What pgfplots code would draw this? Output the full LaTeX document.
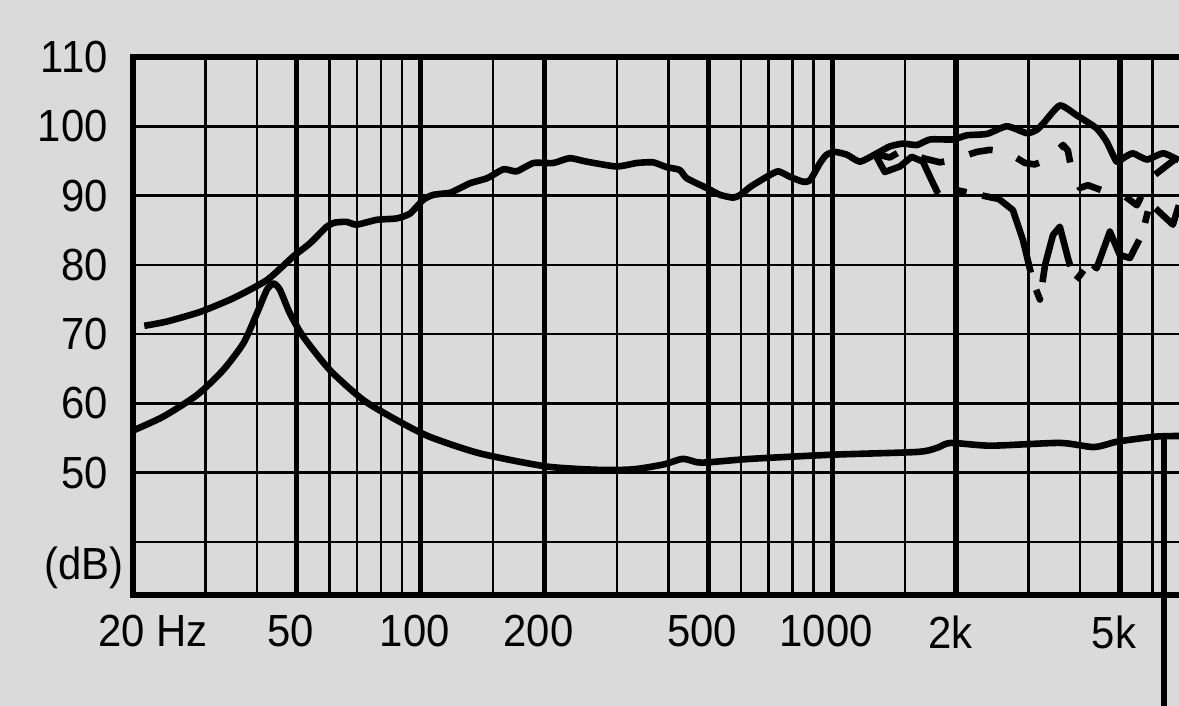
\documentclass[border=0pt]{standalone}
\usepackage{fontspec}
\setmainfont{Liberation Sans}[FakeStretch=0.93]
\usepackage{pgfplots}
\pgfplotsset{compat=1.18}
\definecolor{bg}{RGB}{218,218,218}
\begin{document}
\begin{tikzpicture}
\fill[bg] (-66.5pt,-55.5pt) rectangle (523pt,297.5pt);
\useasboundingbox (-66.5pt,-55.5pt) rectangle (523pt,297.5pt);
\begin{axis}[
  at={(0,0)}, anchor=south west,
  scale only axis, width=523pt, height=269pt,
  xmode=log, log basis x=10,
  xmin=20, xmax=6960, ymin=32.35, ymax=110,
  clip=false,
  axis y line*=left,
  axis line style={line width=2.8pt, line cap=rect},
  xtick={50,100,200,500,1000,2000,5000},
  xticklabels={50,100,200,500,1000,2k,5k},
  minor xtick={30,40,60,70,80,90,150,300,400,600,700,800,900,1500,3000,4000,6000},
  extra x ticks={20},
  extra x tick labels={20 Hz},
  extra x tick style={xticklabel style={xshift=13pt}},
  ytick={40,50,60,70,80,90,100,110},
  yticklabels={,50,60,70,80,90,100,110},
  extra y ticks={36.2},
  extra y tick labels={(dB)},
  extra y tick style={grid=none, yticklabel style={xshift=8pt}},
  grid=both,
  major x grid style={line width=2.7pt, black},
  minor x grid style={line width=1.15pt, black},
  major y grid style={line width=1.3pt, black},
  major tick length=0pt, minor tick length=0pt,
  tick label style={font=\fontsize{22.5}{26}\selectfont},
  xticklabel style={anchor=north, inner sep=0pt, yshift=-10pt, xshift=-3pt},
  yticklabel style={anchor=east, inner sep=0pt, xshift=-12.5pt},
  /pgf/number format/assume math mode=true,
  curve/.style={black, no markers, line width=3.3pt, line join=round},
]
% on-axis SPL
\addplot[curve, smooth, tension=0.35] coordinates {
(21.3,71.2)(24.1,71.8)(29.1,73.2)(35.1,75.2)(42.3,77.8)(49,81.2)(53.8,83.1)(59.1,85.5)
(61.9,86.1)(66.1,86.2)(69.9,85.8)(78.2,86.5)(87.4,86.7)(94.2,87.4)(101.5,89.4)(107.3,90.1)
(117.8,90.4)(122,90.8)(132,91.8)(145,92.5)(159,93.8)(171,93.5)(188,94.7)(210,94.7)(230,95.4)
(253,94.9)(299,94.2)(335,94.7)(367,94.8)(396,94.1)(426,93.7)(443,92.5)(495,91.1)(534,90.1)
(575,89.7)(598,90.1)(634,91.3)(693,92.7)(739,93.5)(790,92.7)(849,92.0)(883,92.2)(934,94.7)
(969,95.9)(1015,96.3)(1086,95.9)(1168,94.9)(1284,96.1)(1381,97.1)(1486,97.5)(1607,97.3)
(1729,98.1)(1964,98.1)(2124,98.7)(2377,98.9)(2657,100.0)(2972,99.0)(3142,99.5)(3256,100.4)
(3573,103.0)(3924,101.6)(4389,99.7)(4640,97.8)(4908,94.9)(5094,95.4)(5377,96.1)(5816,95.2)
(6372,96.1)(6954,95.1)
};
% off-axis 1 (dashed)
\addplot[curve, dash pattern=on 12pt off 13pt] coordinates {
(1270,96.0)(1380,95.5)(1486,96.6)(1661,95.4)(1826,94.8)(1950,95.1)(2243,96.3)(2416,96.6)
(2657,96.3)(2939,94.7)(3100,94.5)(3323,95.1)(3640,97.3)(3738,96.5)(3844,92.7)(4000,91.1)
(4180,91.5)(4598,90.6)(5086,90.1)(5500,88.6)(5750,91.0)(6081,93.0)(6726,95.0)(6954,95.5)
};
% off-axis 2 (long dashes)
\addplot[curve, dash pattern=on 50pt off 9pt on 6pt off 8pt] coordinates {
(1270,96.0)(1342,93.4)(1460,94.2)(1560,95.6)(1661,94.9)(1744,92.2)(1807,90.3)(1897,91.1)
(2150,90.4)(2541,89.5)(2748,87.9)(2906,83.6)(3074,77.6)(3196,75.0)(3290,80.0)(3438,84.3)
(3573,85.5)(3738,81.0)(3886,77.6)(4000,78.5)(4228,80.5)(4389,79.5)(4728,84.8)(5000,81.4)
(5289,81.0)(5670,84.5)(5914,88.9)(6726,85.8)(6954,88.6)
};
% impedance
\addplot[curve, smooth, tension=0.4] coordinates {
(20.2,56.2)(23.7,58.1)(28.6,61.2)(33.1,64.8)(37.1,68.7)(40,73.0)(42.3,76.4)(43.9,77.3)
(45.5,76.4)(48.1,73.0)(51.9,69.6)(60.2,64.8)(72.5,60.5)(87.4,57.6)(105,55.2)(139,52.8)
(202,50.9)(274,50.4)(330,50.5)(390,51.2)(433,52.0)(470,51.5)(500,51.5)(634,52.0)(1000,52.6)
(1612,53.0)(1800,53.6)(1940,54.3)(2430,53.9)(3573,54.3)(4324,53.7)(4944,54.5)(6081,55.2)
(6954,55.3)
};
% vertical marker line
\addplot[black, no markers, line width=3pt] coordinates {(6396,55.2)(6396,15)};
\end{axis}
\end{tikzpicture}
\end{document}
